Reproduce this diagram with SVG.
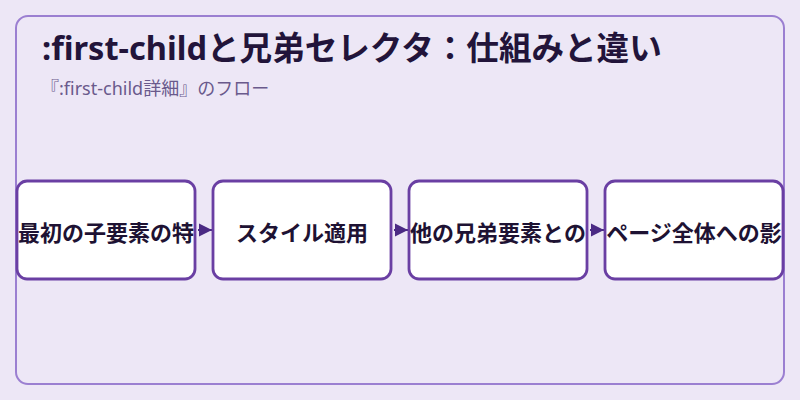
<svg xmlns="http://www.w3.org/2000/svg" width="800" height="400" viewBox="0 0 800 400">
<defs>
<style>
.title{font-family:"Noto Sans","Noto Sans CJK JP",sans-serif;font-weight:700;font-size:32.6px;fill:#22143a}
.sub{font-family:"Noto Sans","Noto Sans CJK JP",sans-serif;font-size:18px;fill:#6a5a8c}
.box{fill:#ffffff;stroke:#6a3fa3;stroke-width:2.8}
.lbl{font-family:"Noto Sans CJK JP",sans-serif;font-weight:700;font-size:22px;fill:#1e1233;text-anchor:middle;dominant-baseline:central}
.conn{stroke:#4b2a84;stroke-width:2;fill:none}
</style>
<marker id="arr" viewBox="0 0 10 10" refX="10" refY="5" markerWidth="13" markerHeight="14" markerUnits="userSpaceOnUse" orient="auto">
<path d="M0,0 L10,5 L0,10 Z" fill="#4b2a84"/>
</marker>
</defs>
<rect x="0" y="0" width="800" height="400" fill="#ede7f6"/>
<rect x="16" y="16" width="768" height="368" rx="12" fill="#ede7f6" stroke="#9b7fd1" stroke-width="2"/>
<text class="title" x="42" y="60">:first-childと兄弟セレクタ：仕組みと違い</text>
<text class="sub" x="41" y="95">『:first-child詳細』のフロー</text>
<g id="connectors">
<line class="conn" x1="198" y1="230" x2="212" y2="230" marker-end="url(#arr)"/>
<line class="conn" x1="394" y1="230" x2="408" y2="230" marker-end="url(#arr)"/>
<line class="conn" x1="590" y1="230" x2="604" y2="230" marker-end="url(#arr)"/>
</g>
<g id="node1"><rect class="box" x="17" y="181" width="178" height="98" rx="10"/><text class="lbl" x="106" y="231">最初の子要素の特</text></g>
<g id="node2"><rect class="box" x="213" y="181" width="178" height="98" rx="10"/><text class="lbl" x="302" y="231">スタイル適用</text></g>
<g id="node3"><rect class="box" x="409" y="181" width="178" height="98" rx="10"/><text class="lbl" x="498" y="231">他の兄弟要素との</text></g>
<g id="node4"><rect class="box" x="605" y="181" width="178" height="98" rx="10"/><text class="lbl" x="694" y="231">ページ全体への影</text></g>
</svg>
